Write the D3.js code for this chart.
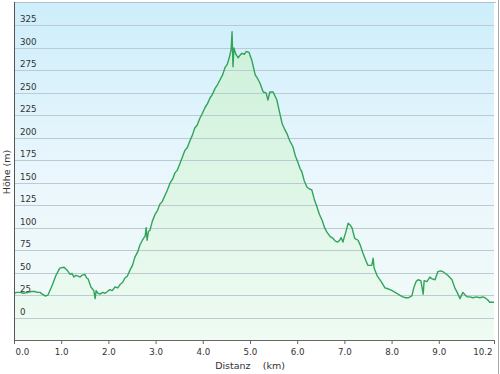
<!DOCTYPE html>
<html><head><meta charset="utf-8">
<script src="https://cdn.jsdelivr.net/npm/d3@7"></script>
<style>html,body{margin:0;padding:0;background:#fff;}svg{display:block;font-family:"DejaVu Sans",Verdana,sans-serif;}</style>
</head><body>
<svg id="c" width="500" height="374"></svg>
<script>
const distKm = [0.00,0.06,0.13,0.20,0.30,0.37,0.44,0.50,0.55,0.60,0.66,0.72,0.81,0.89,0.97,1.06,1.12,1.19,1.23,1.27,1.31,1.36,1.40,1.44,1.50,1.54,1.57,1.63,1.69,1.72,1.74,1.78,1.82,1.88,1.93,1.98,2.03,2.08,2.14,2.20,2.25,2.30,2.35,2.40,2.46,2.51,2.56,2.62,2.67,2.72,2.78,2.80,2.82,2.85,2.88,2.93,2.99,3.04,3.09,3.14,3.20,3.25,3.31,3.36,3.41,3.46,3.52,3.57,3.62,3.67,3.73,3.78,3.83,3.88,3.94,3.99,4.05,4.10,4.15,4.20,4.26,4.31,4.36,4.42,4.47,4.52,4.56,4.60,4.62,4.64,4.66,4.70,4.75,4.79,4.83,4.88,4.92,4.98,5.04,5.11,5.16,5.21,5.28,5.34,5.38,5.42,5.49,5.57,5.62,5.68,5.73,5.78,5.84,5.91,5.96,6.02,6.06,6.10,6.15,6.21,6.26,6.31,6.36,6.42,6.47,6.53,6.58,6.63,6.70,6.76,6.81,6.86,6.90,6.93,6.97,7.00,7.03,7.08,7.12,7.16,7.22,7.29,7.34,7.39,7.45,7.50,7.58,7.61,7.63,7.69,7.74,7.78,7.86,7.92,7.97,8.04,8.11,8.17,8.24,8.30,8.35,8.43,8.47,8.52,8.56,8.62,8.67,8.69,8.75,8.81,8.86,8.92,8.98,9.04,9.09,9.14,9.19,9.28,9.34,9.39,9.45,9.51,9.56,9.60,9.66,9.72,9.80,9.87,9.93,9.98,10.03,10.08,10.17];
const elevM = [27,28,28,27,28,29,29,28,28,26,24,25,36,47,55,56,53,48,49,45,47,46,45,47,48,44,43,34,30,21,30,27,26,28,27,29,31,30,34,33,37,39,44,46,53,58,67,73,81,86,91,100,86,96,97,107,115,119,126,129,136,142,150,154,161,164,172,179,186,189,197,203,211,214,222,227,234,238,244,248,255,259,264,270,278,282,289,298,318,279,300,293,289,292,294,293,296,295,286,270,266,261,251,250,242,251,251,242,230,216,210,205,197,190,180,172,166,162,152,145,143,142,132,123,115,108,100,95,90,88,85,84,86,89,84,90,95,105,103,100,88,86,80,72,64,58,58,66,55,47,43,40,33,32,31,29,27,25,23,22,22,24,33,40,42,41,26,41,40,45,43,42,51,52,51,49,47,42,33,28,21,28,25,23,23,22,23,22,23,22,20,17,17];
const yTicks = [0,25,50,75,100,125,150,175,200,225,250,275,300,325];
const xTickVals = [0,1,2,3,4,5,6,7,8,9,10.17];
const xTickLabels = ["0.0","1.0","2.0","3.0","4.0","5.0","6.0","7.0","8.0","9.0","10.2"];

const svg = d3.select("#c");
const L=14,R=494,T=3,B=340;
const x = d3.scaleLinear().domain([0,10.17]).range([L,R]);
const y = d3.scaleLinear().domain([-25,350]).range([B,T]);
const defs = svg.append("defs");
const bg = defs.append("linearGradient").attr("id","bg").attr("x1",0).attr("y1",0).attr("x2",0).attr("y2",1);
bg.append("stop").attr("offset","0%").attr("stop-color","#cdeefb");
bg.append("stop").attr("offset","55%").attr("stop-color","#ecf7fd");
bg.append("stop").attr("offset","100%").attr("stop-color","#f1fbf6");
const ag = defs.append("linearGradient").attr("id","ag").attr("x1",0).attr("y1",0).attr("x2",0).attr("y2",1);
ag.append("stop").attr("offset","0%").attr("stop-color","#cdf1d9");
ag.append("stop").attr("offset","100%").attr("stop-color","#effbf3");

svg.append("line").attr("x1",498.5).attr("x2",498.5).attr("y1",0).attr("y2",374).attr("stroke","#aaa");
svg.append("rect").attr("x",L).attr("y",T).attr("width",R-L).attr("height",B-T).attr("fill","url(#bg)");
svg.append("line").attr("x1",L).attr("x2",R+2).attr("y1",T-0.5).attr("y2",T-0.5).attr("stroke","#b5c0c6");

const pts = distKm.map((d,i)=>[d,elevM[i]]);
svg.append("path").datum(pts).attr("fill","url(#ag)")
  .attr("d",d3.area().x(d=>x(d[0])).y0(B).y1(d=>y(d[1])));

svg.append("g").selectAll("line").data(yTicks).join("line")
  .attr("x1",L).attr("x2",R).attr("y1",d=>Math.round(y(d))+0.5).attr("y2",d=>Math.round(y(d))+0.5)
  .attr("stroke","#bccbd2").attr("stroke-width",1);
svg.append("g").selectAll("text").data(yTicks).join("text")
  .attr("x",20).attr("y",d=>Math.round(y(d))-3).attr("font-size",8.7).attr("fill","#333").text(d=>d);

svg.append("path").datum(pts).attr("fill","none").attr("stroke","#31a35a").attr("stroke-width",1.4)
  .attr("stroke-linejoin","round")
  .attr("d",d3.line().x(d=>x(d[0])).y(d=>y(d[1])));

const xa = svg.append("g").attr("transform",`translate(0,${B})`)
  .call(d3.axisBottom(x).tickValues(xTickVals).tickSize(4).tickFormat((d,i)=>xTickLabels[i]));
xa.select(".domain").attr("stroke","#666");
xa.selectAll(".tick line").attr("stroke","#666");
xa.selectAll(".tick text").attr("font-size",8.7).attr("fill","#333").attr("font-family","DejaVu Sans").attr("dy","0.9em")
  .attr("text-anchor",(d,i)=>i===0?"start":(i===xTickVals.length-1?"end":"middle"))
  .attr("dx",(d,i)=>i===0?1:(i===xTickVals.length-1?-2:0));
svg.append("line").attr("x1",L+0.5).attr("x2",L+0.5).attr("y1",T-1).attr("y2",B).attr("stroke","#555");

svg.append("text").attr("x",250).attr("y",369).attr("text-anchor","middle").attr("font-size",9.5).attr("fill","#333")
  .attr("xml:space","preserve").text("Distanz    (km)");
svg.append("text").attr("transform","translate(10,172) rotate(-90)").attr("text-anchor","middle").attr("font-size",9.5).attr("fill","#333")
  .text("Höhe (m)");
</script>
</body></html>
